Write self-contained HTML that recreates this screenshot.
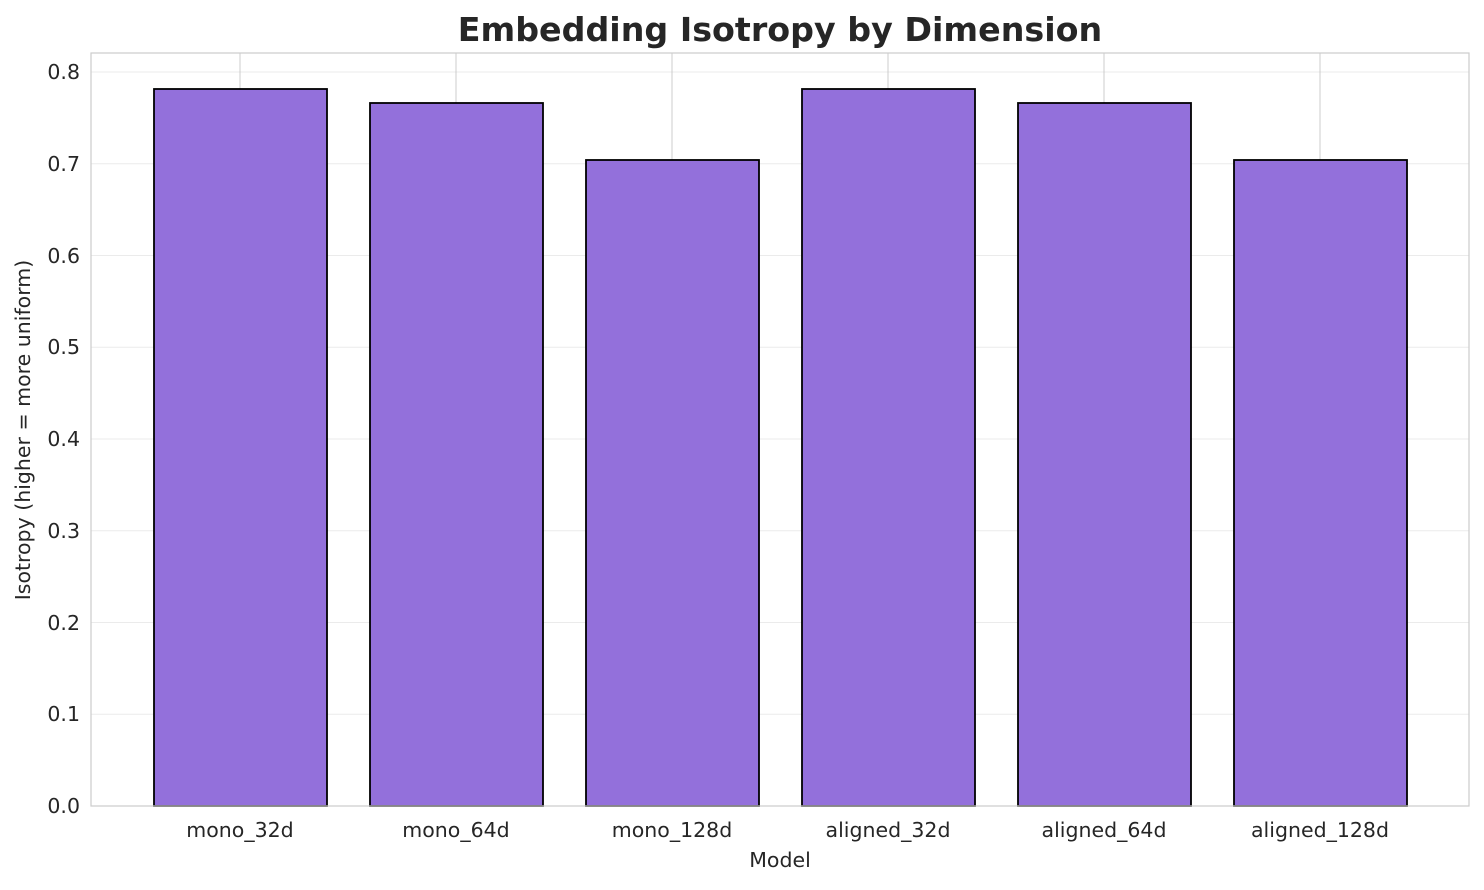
<!DOCTYPE html>
<html><head><meta charset="utf-8"><style>body{margin:0;background:#fff}</style></head>
<body>
<svg width="1484" height="885" xmlns="http://www.w3.org/2000/svg" font-family="'DejaVu Sans','Liberation Sans',sans-serif">
<rect width="1484" height="885" fill="#fff"/>
<g stroke="#ebebeb" stroke-width="1">
<line x1="91" x2="1469" y1="714.25" y2="714.25"/>
<line x1="91" x2="1469" y1="622.5" y2="622.5"/>
<line x1="91" x2="1469" y1="530.75" y2="530.75"/>
<line x1="91" x2="1469" y1="439" y2="439"/>
<line x1="91" x2="1469" y1="347.25" y2="347.25"/>
<line x1="91" x2="1469" y1="255.5" y2="255.5"/>
<line x1="91" x2="1469" y1="163.75" y2="163.75"/>
<line x1="91" x2="1469" y1="72" y2="72"/>
</g>
<g stroke="#cccccc" stroke-width="1">
<line x1="240" x2="240" y1="53" y2="806"/>
<line x1="456" x2="456" y1="53" y2="806"/>
<line x1="672" x2="672" y1="53" y2="806"/>
<line x1="888" x2="888" y1="53" y2="806"/>
<line x1="1104" x2="1104" y1="53" y2="806"/>
<line x1="1320" x2="1320" y1="53" y2="806"/>
</g>
<g fill="#9370db" stroke="#000" stroke-width="1.8">
<rect x="154" y="89" width="173" height="717"/>
<rect x="370" y="103" width="173" height="703"/>
<rect x="586" y="160" width="173" height="646"/>
<rect x="802" y="89" width="173" height="717"/>
<rect x="1018" y="103" width="173" height="703"/>
<rect x="1234" y="160" width="173" height="646"/>
</g>
<rect x="91" y="53" width="1378" height="753" fill="none" stroke="#cccccc" stroke-width="1.2"/>
<g font-size="20.5" fill="#262626" text-anchor="end">
<text x="80" y="813">0.0</text>
<text x="80" y="721">0.1</text>
<text x="80" y="630">0.2</text>
<text x="80" y="538">0.3</text>
<text x="80" y="446">0.4</text>
<text x="80" y="354">0.5</text>
<text x="80" y="263">0.6</text>
<text x="80" y="171">0.7</text>
<text x="80" y="79">0.8</text>
</g>
<g font-size="20.5" fill="#262626" text-anchor="middle">
<text x="240" y="837">mono_32d</text>
<text x="456" y="837">mono_64d</text>
<text x="672" y="837">mono_128d</text>
<text x="888" y="837">aligned_32d</text>
<text x="1104" y="837">aligned_64d</text>
<text x="1320" y="837">aligned_128d</text>
<text x="780" y="867">Model</text>
<text transform="translate(30,430) rotate(-90)">Isotropy (higher = more uniform)</text>
</g>
<text x="780" y="41" font-size="33.3" font-weight="bold" fill="#262626" text-anchor="middle">Embedding Isotropy by Dimension</text>
</svg>
</body></html>
